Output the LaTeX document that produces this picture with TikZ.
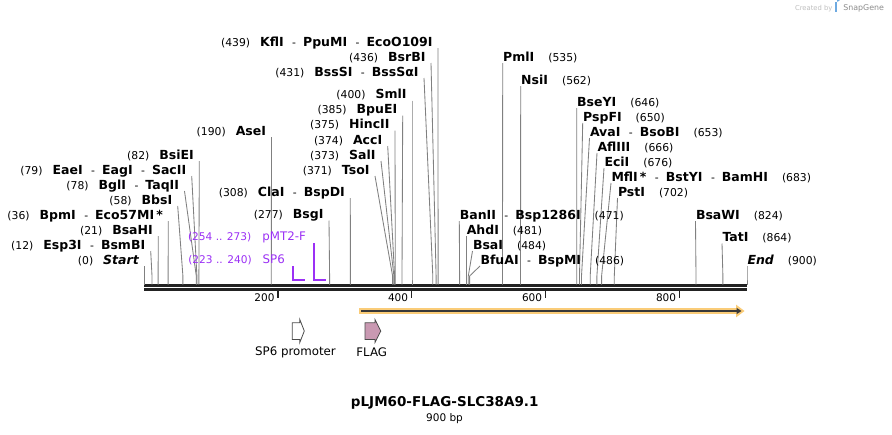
\documentclass[tikz,border=0pt]{standalone}
\usepackage{fontspec}
\setmainfont{DejaVu Sans}
\usetikzlibrary{calc,arrows.meta}
\definecolor{cutgray}{RGB}{128,128,128}
\definecolor{bbone}{RGB}{34,34,34}
\definecolor{primerc}{RGB}{155,48,245}
\definecolor{orfband}{RGB}{250,204,120}
\definecolor{flagc}{RGB}{201,153,178}
\definecolor{logoblue}{RGB}{110,170,225}
\newcommand\pn[1]{{\fontsize{10.8}{13}\selectfont(#1)}}
\newcommand\nm[1]{{\fontsize{12.5}{14}\selectfont\bfseries #1}}
\newcommand\nmi[1]{{\fontsize{12.5}{14}\selectfont\bfseries\itshape #1}}
\newcommand\dsh{\hspace{8.5pt}{\fontsize{10.8}{13}\selectfont-}\hspace{7pt}}
\newcommand\gapL{\hspace{10pt}}
\newcommand\gapR{\hspace{14pt}}
\newcommand\cutL[5]{%
  \node[lab,anchor=base east] (#1) at ({#2-5.5},{#3+4.4}) {#5};
  \coordinate (#1t) at (#2,{#3+6});
  \coordinate (#1k) at (#4,276);
  \coordinate (#1b) at (#4,284.5);
  \draw[cutline] (#1t) -- (#1k) -- (#1b);}
\newcommand\cutR[5]{%
  \node[lab,anchor=base west] (#1) at ({#2+0.5},{#3+4.4}) {#5};
  \coordinate (#1t) at (#2,{#3+6});
  \coordinate (#1k) at (#4,276);
  \coordinate (#1b) at (#4,284.5);
  \draw[cutline] (#1t) -- (#1k) -- (#1b);}
\begin{document}
\begin{tikzpicture}[x=1pt,y=-1pt,
  lab/.style={inner sep=0pt,outer sep=0pt},
  cutline/.style={draw=cutgray,line width=0.85pt},
  bbline/.style={draw=bbone,line width=2.8pt},
  tickline/.style={draw=bbone,line width=1.6pt},
  ticklab/.style={inner sep=0pt,anchor=base east,font=\fontsize{10.5}{12}\selectfont},
  primerline/.style={draw=primerc,line width=1.7pt},
  primerlab/.style={inner sep=0pt,anchor=base east,text=primerc,font=\fontsize{10.6}{12}\selectfont},
  featlab/.style={inner sep=0pt,font=\fontsize{11.8}{14}\selectfont},
  featbox/.style={draw=black!70,line width=0.8pt}]
\useasboundingbox (0,0) rectangle (892,434);
\fill[white] (0,0) rectangle (892,434);

% SnapGene credit
\node[lab,anchor=base west,text=black!25,font=\fontsize{6.8}{8}\selectfont] (cred) at (795,10) {Created by};
\fill[logoblue] (834.5,1.8) rectangle (837,12.2);
\fill[logoblue] (837,1.8) arc (90:-90:3.3) -- cycle;
\node[lab,anchor=base west,text=black!45,font=\fontsize{7.9}{9}\selectfont] (sg) at (843.3,10) {SnapGene};

% backbone
\coordinate (bbAl) at (144,285.6);
\coordinate (bbAr) at (747,285.6);
\coordinate (bbBl) at (144,289.6);
\coordinate (bbBr) at (747,289.6);
\draw[bbline] (bbAl) -- (bbAr);
\draw[bbline] (bbBl) -- (bbBr);

% ticks
\foreach \v/\xx in {200/277.7,400/411.3,600/545.3,800/679.3}{
  \coordinate (tk\v a) at (\xx,291);
  \coordinate (tk\v b) at (\xx,297.5);
  \draw[tickline] (tk\v a) -- (tk\v b);
  \node[ticklab] (tl\v) at ({\xx-3},301) {\v};
}

% left enzymes
\cutL{kfl}{438}{42}{438.1}{\pn{439}\gapL\nm{KflI}\dsh\nm{PpuMI}\dsh\nm{EcoO109I}}
\cutL{bsrb}{431}{57}{436.1}{\pn{436}\gapL\nm{BsrBI}}
\cutL{bsss}{424}{72}{432.8}{\pn{431}\gapL\nm{BssSI}\dsh\nm{BssSαI}}
\cutL{sml}{412}{94.5}{412}{\pn{400}\gapL\nm{SmlI}}
\cutL{bpue}{402.7}{109.5}{402}{\pn{385}\gapL\nm{BpuEI}}
\cutL{hinc}{395}{124.5}{395.3}{\pn{375}\gapL\nm{HincII}}
\cutL{acc}{387.7}{140}{394.6}{\pn{374}\gapL\nm{AccI}}
\cutL{sal}{381}{155}{393.9}{\pn{373}\gapL\nm{SalI}}
\cutL{tso}{375}{170}{392.6}{\pn{371}\gapL\nm{TsoI}}
\cutL{cla}{350.3}{192}{350.4}{\pn{308}\gapL\nm{ClaI}\dsh\nm{BspDI}}
\cutL{bsg}{329}{214.5}{329.6}{\pn{277}\gapL\nm{BsgI}}
\cutL{ase}{271.5}{131}{271.3}{\pn{190}\gapL\nm{AseI}}
\cutL{bsie}{199.3}{155}{198.9}{\pn{82}\gapL\nm{BsiEI}}
\cutL{eae}{191.7}{170}{196.9}{\pn{79}\gapL\nm{EaeI}\dsh\nm{EagI}\dsh\nm{SacII}}
\cutL{bgl}{184.5}{185}{196.3}{\pn{78}\gapL\nm{BglI}\dsh\nm{TaqII}}
\cutL{bbs}{177.7}{200}{182.9}{\pn{58}\gapL\nm{BbsI}}
\cutL{bpm}{168.3}{215}{168.1}{\pn{36}\gapL\nm{BpmI}\dsh\nm{Eco57MI\,*}}
\cutL{bsah}{158.3}{230}{158.1}{\pn{21}\gapL\nm{BsaHI}}
\cutL{esp}{150.7}{245}{152}{\pn{12}\gapL\nm{Esp3I}\dsh\nm{BsmBI}}
\cutL{start}{144.3}{260}{144.3}{\pn{0}\gapL\nmi{Start}}

% right enzymes
\cutR{pml}{502.7}{57}{502.5}{\nm{PmlI}\gapR\pn{535}}
\cutR{nsi}{520.7}{80}{520.5}{\nm{NsiI}\gapR\pn{562}}
\cutR{bsey}{576.7}{102}{576.8}{\nm{BseYI}\gapR\pn{646}}
\cutR{pspf}{582.7}{117}{579.5}{\nm{PspFI}\gapR\pn{650}}
\cutR{ava}{589.5}{132}{581.5}{\nm{AvaI}\dsh\nm{BsoBI}\gapR\pn{653}}
\cutR{afl}{597}{147}{590.2}{\nm{AflIII}\gapR\pn{666}}
\cutR{eci}{604}{162}{596.9}{\nm{EciI}\gapR\pn{676}}
\cutR{mfl}{611}{177}{601.6}{\nm{MflI\,*}\dsh\nm{BstYI}\dsh\nm{BamHI}\gapR\pn{683}}
\cutR{pst}{617.5}{192}{614.3}{\nm{PstI}\gapR\pn{702}}
\cutR{ban}{459.3}{215}{459.6}{\nm{BanII}\dsh\nm{Bsp1286I}\gapR\pn{471}}
\cutR{ahd}{466.3}{230}{466.3}{\nm{AhdI}\gapR\pn{481}}
\cutR{bsai}{472.5}{245}{468.3}{\nm{BsaI}\gapR\pn{484}}
\cutR{bfua}{480}{260}{469.6}{\nm{BfuAI}\dsh\nm{BspMI}\gapR\pn{486}}
\cutR{bsaw}{695.5}{215}{696}{\nm{BsaWI}\gapR\pn{824}}
\cutR{tat}{722}{237.5}{722.9}{\nm{TatI}\gapR\pn{864}}
\cutR{endc}{747}{260}{747}{\nmi{End}\gapR\pn{900}}

% primers
\node[primerlab] (pmtlab) at (306,240.9) {(254 .. 273)\hspace{11pt}{\fontsize{11.8}{13}\selectfont pMT2-F}};
\node[primerlab] (sp6lab) at (285,263.5) {(223 .. 240)\hspace{11pt}{\fontsize{11.8}{13}\selectfont SP6}};
\coordinate (pmtA) at (314,243);
\coordinate (pmtB) at (314,280);
\coordinate (pmtC) at (326,280);
\draw[primerline] (pmtA) -- (pmtB) -- (pmtC);
\coordinate (spA) at (293,266);
\coordinate (spB) at (293,280);
\coordinate (spC) at (304.5,280);
\draw[primerline] (spA) -- (spB) -- (spC);

% ORF feature
\fill[orfband] (359.3,307.8) rectangle (737,314.2);
\fill[orfband] (736,304.6) -- (744.5,311) -- (736,317.4) -- cycle;
\coordinate (orfA) at (361,311);
\coordinate (orfB) at (741.5,311);
\draw[draw=bbone!90,line width=1.9pt,-{Triangle[length=5pt,width=6pt]}] (orfA) -- (orfB);

% SP6 promoter and FLAG
\draw[featbox,fill=white] (292.3,322.8) -- (299.8,322.8) -- (299.8,319.5) -- (304.3,331) -- (299.8,342.5) -- (299.8,339.5) -- (292.3,339.5) -- cycle;
\draw[featbox,fill=flagc] (365,322.8) -- (375,322.8) -- (375,319.5) -- (380.8,331) -- (375,342.5) -- (375,339.5) -- (365,339.5) -- cycle;
\node[featlab] (sp6prom) at (295.5,352.5) {SP6 promoter};
\node[featlab] (flag) at (371.7,352.5) {FLAG};

% title
\node[lab,font=\fontsize{13.5}{16}\selectfont\bfseries] (title) at (444.7,403) {pLJM60-FLAG-SLC38A9.1};
\node[lab,font=\fontsize{10.5}{12}\selectfont] (size) at (444.5,419) {900 bp};
\end{tikzpicture}
\end{document}
